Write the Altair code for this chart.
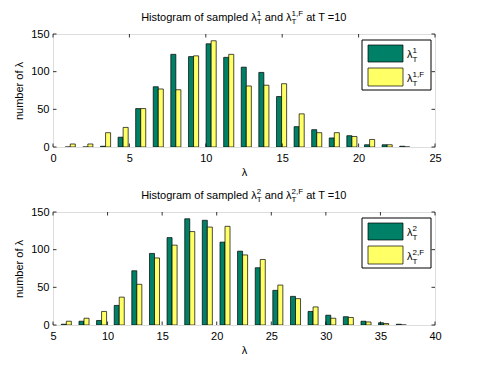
import altair as alt
import pandas as pd

FONT = "Liberation Sans"

# ---- first chain: lambda^1_T ----
top_centers = [1.13, 2.28, 3.44, 4.59, 5.74, 6.89, 8.04, 9.20, 10.35, 11.50,
               12.65, 13.80, 14.96, 16.11, 17.26, 18.41, 19.56, 20.72, 21.87, 23.02]
top_lam = [0, 0, 1, 13, 51, 80, 123, 120, 137, 119, 106, 99, 67, 27, 23, 12, 15, 3, 3, 1]
top_lamF = [4, 4, 19, 26, 51, 77, 76, 121, 141, 123, 81, 82, 84, 44, 19, 19, 14, 10, 3, 0]
top_xticks = [0, 5, 10, 15, 20, 25]

# ---- second chain: lambda^2_T ----
bot_centers = [6.22, 7.84, 9.45, 11.07, 12.68, 14.30, 15.91, 17.53, 19.14, 20.76,
               22.37, 23.99, 25.60, 27.22, 28.83, 30.45, 32.06, 33.68, 35.29, 36.91]
bot_lam = [1, 5, 6, 26, 72, 95, 116, 141, 139, 110, 98, 76, 46, 38, 18, 13, 11, 5, 3, 1]
bot_lamF = [5, 9, 18, 37, 54, 89, 106, 124, 130, 131, 93, 87, 53, 35, 24, 9, 10, 4, 2, 0]
bot_xticks = [5, 10, 15, 20, 25, 30, 35, 40]

y_ticks = [0, 50, 100, 150]

W, H = 382, 113
GREEN, YELLOW = "#008066", "#ffff66"

# approximate Helvetica/Arial advance widths (per 1000 em)
ADV = {' ': 278, ',': 278, '=': 584, 'F': 611, 'H': 722, 'T': 611,
       'a': 556, 'd': 556, 'e': 556, 'f': 278, 'g': 556, 'i': 222, 'l': 222,
       'm': 833, 'n': 556, 'o': 556, 'p': 556, 'r': 333, 's': 500, 't': 278,
       'λ': 500}


def tw(s, size):
    return sum(ADV.get(ch, 556) for ch in s) * size / 1000.0


def rich(parts, x0, y0, size=11, small=8, rise=5, drop=3.5):
    """Lay out text with TeX-like sub/superscripts as separate pieces."""
    pieces, x = [], x0
    for p in parts:
        if isinstance(p, str):
            lead = len(p) - len(p.lstrip(" "))
            x += tw(" " * lead, size)
            body = p.strip(" ")
            pieces.append((body, x, y0, size))
            x += tw(body, size)
            x += tw(" " * (len(p) - lead - len(body)), size)
        else:
            sub, sup = p
            pieces.append((sub, x, y0 + drop, small))
            pieces.append((sup, x, y0 - rise, small))
            x += max(tw(sub, small), tw(sup, small))
    return pieces, x - x0


one = pd.DataFrame({"k": [0]})


def text_layers(pieces):
    return [
        alt.Chart(one).mark_text(text=t, fontSize=fs, font=FONT, align="left",
                                 baseline="alphabetic", color="black")
        .encode(x=alt.value(px), y=alt.value(py))
        for (t, px, py, fs) in pieces
    ]


def panel(centers, a, f, xdom, xticks, bw, k):
    df = pd.DataFrame({
        "c": centers * 2,
        "n": a + f,
        "s": ["A"] * len(a) + ["F"] * len(f),
    })
    xs = alt.Scale(domain=xdom, nice=False, zero=False)
    ys = alt.Scale(domain=[0, 150], nice=False)
    xaxis = alt.Axis(
        values=xticks, title="λ", ticks=False, domain=False, grid=False,
        labelFontSize=11, labelPadding=5, labelFont=FONT, labelColor="black",
        labelFlush=False, titleFont=FONT, titleFontSize=11,
        titleFontWeight="normal", titleColor="black", titlePadding=3)
    yaxis = alt.Axis(
        values=y_ticks, title="number of λ", ticks=False, domain=False,
        grid=False, labelFontSize=11, labelPadding=4, labelFont=FONT,
        labelColor="black", titleFont=FONT, titleFontSize=11,
        titleFontWeight="normal", titleColor="black", titlePadding=6)

    bars = alt.Chart(df).transform_calculate(
        x0=f"datum.s == 'A' ? datum.c - {bw} : datum.c",
        x1=f"datum.s == 'A' ? datum.c : datum.c + {bw}",
    ).mark_bar(stroke="black", strokeWidth=0.7, clip=True).encode(
        x=alt.X("x0:Q", scale=xs, axis=xaxis),
        x2="x1:Q",
        y=alt.Y("n:Q", scale=ys, axis=yaxis),
        y2=alt.datum(0),
        color=alt.Color("s:N", scale=alt.Scale(domain=["A", "F"], range=[GREEN, YELLOW]),
                        legend=None),
    )

    xt = pd.DataFrame({"t": xticks})
    yt = pd.DataFrame({"t": y_ticks})
    tl = 3.5
    tick_marks = [
        alt.Chart(xt).mark_rule(color="black", strokeWidth=0.8).encode(
            x=alt.X("t:Q", scale=xs, axis=xaxis), y=alt.value(0), y2=alt.value(tl)),
        alt.Chart(xt).mark_rule(color="black", strokeWidth=0.8).encode(
            x=alt.X("t:Q", scale=xs, axis=xaxis), y=alt.value(H), y2=alt.value(H - tl)),
        alt.Chart(yt).mark_rule(color="black", strokeWidth=0.8).encode(
            y=alt.Y("t:Q", scale=ys, axis=yaxis), x=alt.value(0), x2=alt.value(tl)),
        alt.Chart(yt).mark_rule(color="black", strokeWidth=0.8).encode(
            y=alt.Y("t:Q", scale=ys, axis=yaxis), x=alt.value(W), x2=alt.value(W - tl)),
    ]

    # legend box
    box = alt.Chart(one).mark_rect(fill="white", stroke="black", strokeWidth=1).encode(
        x=alt.value(309), x2=alt.value(378), y=alt.value(6), y2=alt.value(56))
    sw1 = alt.Chart(one).mark_rect(fill=GREEN, stroke="black", strokeWidth=0.7).encode(
        x=alt.value(315), x2=alt.value(350), y=alt.value(11), y2=alt.value(28))
    sw2 = alt.Chart(one).mark_rect(fill=YELLOW, stroke="black", strokeWidth=0.7).encode(
        x=alt.value(315), x2=alt.value(350), y=alt.value(34), y2=alt.value(52))

    kk = str(k)
    leg1, _ = rich(["λ", ("T", kk)], 354, 24)
    leg2, _ = rich(["λ", ("T", kk + ",F")], 354, 48)

    parts = ["Histogram of sampled λ", ("T", kk), " and λ", ("T", kk + ",F"), " at T =10"]
    _, width = rich(parts, 0, 0)
    title, _ = rich(parts, W / 2 - width / 2, -13.5)

    return alt.layer(
        bars, *tick_marks, box, sw1, sw2,
        *text_layers(leg1 + leg2 + title),
    ).properties(width=W, height=H)


top = panel(top_centers, top_lam, top_lamF, [0, 25], top_xticks, 0.33, 1)
bottom = panel(bot_centers, bot_lam, bot_lamF, [5, 40], bot_xticks, 0.46, 2)

chart = alt.vconcat(top, bottom, spacing=9).properties(
    padding={"left": 13, "top": 9, "right": 5, "bottom": 5},
    background="white",
).configure_view(stroke="black", strokeWidth=1).configure(font=FONT)

chart.save("out.html", embed_options={"renderer": "svg", "actions": False})
